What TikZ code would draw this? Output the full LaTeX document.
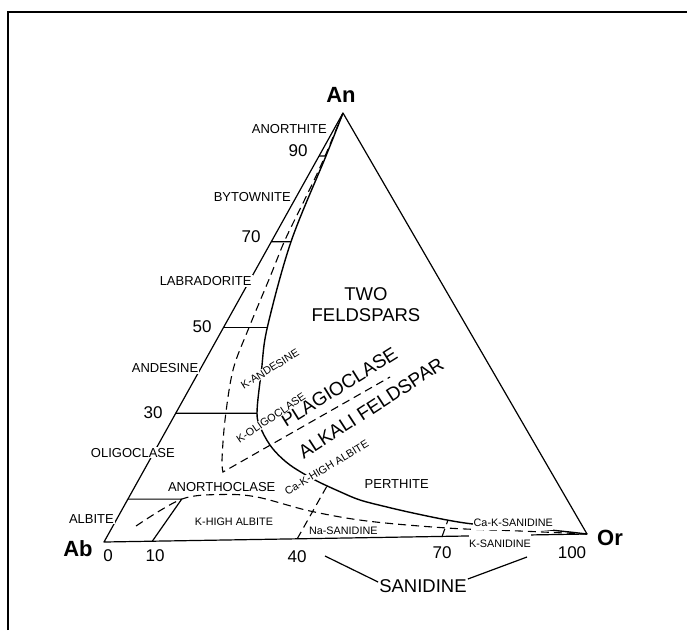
\documentclass[tikz,border=0pt]{standalone}
\usepackage{fontspec}
\setmainfont{Liberation Sans}
\usepackage{tikz}
\usetikzlibrary{calc}
\tikzset{
  apex/.style={font=\fontsize{22}{24}\selectfont\bfseries, inner sep=1pt},
  num/.style={font=\fontsize{17}{19}\selectfont, inner sep=1pt},
  mineral/.style={font=\fontsize{13}{15}\selectfont, fill=white, inner sep=1pt},
  variety/.style={font=\fontsize{10.8}{12}\selectfont, fill=white, inner sep=0.5pt},
  field/.style={font=\fontsize{18.5}{21}\selectfont, align=center, inner sep=1pt},
  sideline/.style={line width=1.2pt, line join=round},
  solvus/.style={line width=1.4pt},
  klimit/.style={line width=1.1pt, dash pattern=on 8pt off 5pt}
}
\begin{document}
\begin{tikzpicture}[x=1pt, y=-1pt]
\useasboundingbox (0,0) rectangle (687,630);

% frame
\draw[line width=2pt] (8,630) -- (8,12) -- (687,12);

% corners of the triangle
\coordinate (Ab) at (104,542);
\coordinate (Or) at (587,534);
\coordinate (An) at (343,113);

% An steps on the Ab-An side, Or steps on the base
\foreach \p in {10,30,50,70,90}
  \coordinate (l\p) at ($(Ab)!\p/100!(An)$);
\foreach \p in {10,40,70}
  \coordinate (o\p) at ($(Ab)!\p/100!(Or)$);
\coordinate (s90) at (326,155.9);
\coordinate (s70) at (291,241.7);
\coordinate (s50) at (267.3,327.5);
\coordinate (s30) at (257,413.3);
\coordinate (b10) at (181.7,499.1);

% triangle and plagioclase steps
\draw[sideline] (Ab) -- (Or) -- (An) -- cycle;
\foreach \p in {30,50,70,90}
  \draw[sideline] (l\p) -- (s\p);
\draw[sideline] (l10) -- (b10) -- (o10);

% solvus
\draw[solvus] plot[smooth, tension=0.55] coordinates {(An) (s90) (s70) (s50)
  (261.5,370) (s30) (262,431) (273,449) (290,465) (315,480) (340,491.7)
  (360,500) (387,507) (413,513) (447,520) (473,524) (510,527) (550,530) (Or)};

% dashed limits
\draw[klimit] plot[smooth, tension=0.55] coordinates {(An) (322,163) (304,201)
  (285,240) (270,277) (248,330) (233,370) (225,420) (222,460) (223,472)}
  -- (390,377);
\draw[klimit] plot[smooth, tension=0.55] coordinates {(136,526) (b10)
  (222,494.5) (257,497) (310,511) (367,521) (447,528) (520,531) (Or)};
\draw[klimit] (o40) -- (327,486);
\draw[klimit] (o70) -- (448,520);

% corner names
\node[apex] (nAn) at (341,95) {An};
\node[apex] (nOr) at (610,538) {Or};
\node[apex] (nAb) at (78,549) {Ab};

% numbers
\node[num] (n90) at (298,151) {90};
\node[num] (n70) at (251,237) {70};
\node[num] (n50) at (202,327) {50};
\node[num] (n30) at (153,413) {30};
\node[num] (b0) at (108,556) {0};
\node[num] (b10n) at (155,556) {10};
\node[num] (b40) at (297,557) {40};
\node[num] (b70) at (442,553) {70};
\node[num] (b100) at (572,553) {100};

% plagioclase names along the Ab-An side
\node[mineral, anchor=east] (anorthite) at (328,129.3) {ANORTHITE};
\node[mineral, anchor=east] (bytownite) at (292,196.7) {BYTOWNITE};
\node[mineral, anchor=east] (labradorite) at (252.7,281) {LABRADORITE};
\node[mineral, anchor=east] (andesine) at (199.5,368) {ANDESINE};
\node[mineral, anchor=east] (oligoclase) at (176,452.7) {OLIGOCLASE};
\node[mineral, anchor=east] (albite) at (115,519) {ALBITE};

% fields
\node[mineral] (anorthoclase) at (221.7,487.3) {ANORTHOCLASE};
\node[mineral, fill=none] (perthite) at (396.7,484.3) {PERTHITE};
\node[field] (two) at (366,305) {TWO\\FELDSPARS};
\node[field, font=\fontsize{19}{21}\selectfont, rotate=32] (plag) at (339,387) {PLAGIOCLASE};
\node[field, font=\fontsize{19}{21}\selectfont, rotate=33] (alk) at (371,408) {ALKALI FELDSPAR};
\node[variety, rotate=32] (kand) at (270,369) {K-ANDESINE};
\node[variety, rotate=34] (kolig) at (271,418) {K-OLIGOCLASE};
\node[variety, rotate=31] (cakhab) at (326.7,467.5) {Ca-K-HIGH ALBITE};
\node[variety] (khab) at (234,521.7) {K-HIGH ALBITE};
\node[variety] (nasan) at (343.3,531) {Na-SANIDINE};
\node[variety, inner ysep=3pt] (caksan) at (513.3,522.7) {Ca-K-SANIDINE};
\node[variety, inner ysep=6pt] (ksan) at (500,544) {K-SANIDINE};

% sanidine
\node[field] (san) at (423,586) {SANIDINE};
\coordinate (sanL) at (325,556);
\coordinate (sanR) at (527,557);
\draw[sideline] (sanL) -- ([yshift=4pt]san.west);
\draw[sideline] (sanR) -- ([yshift=7pt]san.east);

\end{tikzpicture}
\end{document}
